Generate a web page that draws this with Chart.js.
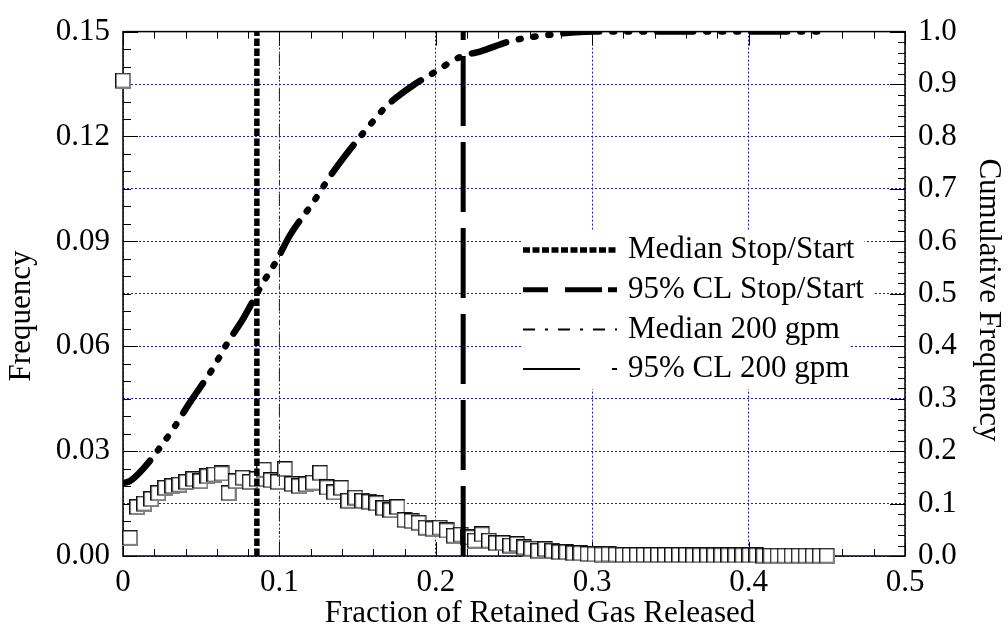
<!DOCTYPE html>
<html lang="en">
<head>
<meta charset="UTF-8" />
<title>Fraction of Retained Gas Released</title>
<script src="https://cdn.jsdelivr.net/npm/chart.js"></script>
<style>
  html, body { margin: 0; padding: 0; background: #fff; }
  #wrap { width: 1008px; height: 638px; position: relative; }
</style>
</head>
<body>
<div id="wrap"><canvas id="chart"></canvas></div>
<script>
// histogram of the released fraction (bins of 0.0045, plotted at the bin start)
const binWidth = 0.0045;
const frequency = [
  0.136, 0.0052, 0.0140, 0.0150, 0.0163, 0.0180, 0.0195, 0.0200, 0.0204, 0.0212,
  0.0220, 0.0214, 0.0228, 0.0233, 0.0236, 0.0180, 0.0214, 0.0224, 0.0212, 0.0220,
  0.0247, 0.0217, 0.0212, 0.0249, 0.0206, 0.0200, 0.0205, 0.0210, 0.0238, 0.0196,
  0.0182, 0.0195, 0.0158, 0.0167, 0.0158, 0.0155, 0.0151, 0.0137, 0.0131, 0.0140,
  0.0103, 0.0100, 0.0095, 0.0081, 0.0078, 0.0081, 0.0073, 0.0058, 0.0061, 0.0053,
  0.0044, 0.0062, 0.0044, 0.0037, 0.0037, 0.0030, 0.0034, 0.0025, 0.0021, 0.0015,
  0.0020, 0.0015, 0.0011, 0.0011, 0.0008, 0.0008, 0.0006, 0.0005, 0.0004, 0.0005,
  0.0004, 0.0003, 0.0003, 0.0003, 0.0003, 0.0003, 0.0003, 0.0003, 0.0003, 0.0003,
  0.0003, 0.0002, 0.0002, 0.0002, 0.0002, 0.0002, 0.0002, 0.0002, 0.0002, 0.0002,
  0.0002, 0.0001, 0.0001, 0.0001, 0.0001, 0.0001, 0.0001, 0.0001, 0.0001, 0.0001,
  0.0001
];

// cumulative frequency curve (right axis)
const cumX = [0, 0.0045, 0.0128, 0.0217, 0.032, 0.0428, 0.0575, 0.0665, 0.0767, 0.0889,
  0.0985, 0.1068, 0.1215, 0.1324, 0.1451, 0.163, 0.1688, 0.1867, 0.195, 0.2167,
  0.2283, 0.2494, 0.2794, 0.3005, 0.45];
const cumY = [0.139, 0.143, 0.166, 0.199, 0.242, 0.293, 0.358, 0.405, 0.452, 0.518,
  0.565, 0.612, 0.674, 0.724, 0.775, 0.84, 0.859, 0.90, 0.915, 0.953,
  0.962, 0.983, 0.996, 1.0, 1.0];

// vertical reference lines
const medianStopStart = 0.0856;
const cl95StopStart = 0.2175;
const median200 = 0.1;

const xTickLabels = ['0', '0.1', '0.2', '0.3', '0.4', '0.5'];
const leftTickLabels = ['0.00', '0.03', '0.06', '0.09', '0.12', '0.15'];
const rightTickLabels = ['0.0', '0.1', '0.2', '0.3', '0.4', '0.5', '0.6', '0.7', '0.8', '0.9', '1.0'];
const legendLabels = ['Median Stop/Start', '95% CL Stop/Start', 'Median 200 gpm', '95% CL 200 gpm'];

const FONT = '"Liberation Serif", "Times New Roman", serif';
const gridBlue = 'rgba(0, 0, 230, 0.9)';
Chart.defaults.font.family = FONT;
Chart.defaults.font.size = 31;
Chart.defaults.color = '#000';

const squares = frequency.map((f, i) => ({ x: +(i * binWidth).toFixed(4), y: f }));
const cumulative = cumX.map((x, i) => ({ x: x, y: cumY[i] }));
const vline = v => [{ x: v, y: 0 }, { x: v, y: 0.15 }];

// hollow square marker: dark top/left edge, grey bottom/right edge
function makeSquare() {
  const c = document.createElement('canvas');
  c.width = 16; c.height = 16;
  const g = c.getContext('2d');
  g.fillStyle = '#fff';
  g.fillRect(0, 0, 16, 16);
  g.fillStyle = '#808080';
  g.fillRect(0, 14, 16, 2);
  g.fillRect(14, 0, 2, 16);
  g.fillStyle = '#111';
  g.fillRect(0, 0, 15, 1.5);
  g.fillRect(0, 0, 1.5, 15);
  return c;
}

// frame + inward ticks, drawn over the grid but under the data
const frameTicks = {
  id: 'frameTicks',
  beforeDatasetsDraw(chart) {
    const { ctx, chartArea: a, scales } = chart;
    ctx.save();
    ctx.strokeStyle = '#000';
    ctx.lineWidth = 1;
    ctx.beginPath();
    for (let i = 0; i <= 25; i++) {
      const px = Math.round(scales.x.getPixelForValue(i * 0.02)) + 0.5;
      const len = i % 5 === 0 ? 14 : 7;
      ctx.moveTo(px, a.bottom); ctx.lineTo(px, a.bottom - len);
      ctx.moveTo(px, a.top); ctx.lineTo(px, a.top + len);
    }
    for (let i = 0; i <= 30; i++) {
      const py = Math.round(scales.y.getPixelForValue(i * 0.005)) + 0.5;
      const len = i % 6 === 0 ? 15 : 8;
      ctx.moveTo(a.left, py); ctx.lineTo(a.left + len, py);
    }
    for (let i = 0; i <= 50; i++) {
      const py = Math.round(scales.y1.getPixelForValue(i * 0.02)) + 0.5;
      const len = i % 5 === 0 ? 15 : 7;
      ctx.moveTo(a.right, py); ctx.lineTo(a.right - len, py);
    }
    ctx.stroke();
    ctx.lineWidth = 1.5;
    ctx.strokeRect(a.left, a.top, a.right - a.left, a.bottom - a.top);
    ctx.restore();
  }
};

// axis titles
const axisTitles = {
  id: 'axisTitles',
  afterDraw(chart) {
    const ctx = chart.ctx;
    ctx.save();
    ctx.font = '31px ' + FONT;
    ctx.fillStyle = '#000';
    ctx.textAlign = 'center';
    ctx.textBaseline = 'middle';
    ctx.fillText('Fraction of Retained Gas Released', 540, 614);
    ctx.translate(22, 316);
    ctx.rotate(-Math.PI / 2);
    ctx.fillText('Frequency', 0, 0);
    ctx.restore();
    ctx.save();
    ctx.font = '31px ' + FONT;
    ctx.fillStyle = '#000';
    ctx.textAlign = 'center';
    ctx.textBaseline = 'middle';
    ctx.translate(988, 300);
    ctx.rotate(Math.PI / 2);
    ctx.fillText('Cumulative Frequency', 0, 0);
    ctx.restore();
  }
};

// legend inside the plot, each row on a white box
const legendStyles = [
  { width: 5.5, dash: [7, 2.5] },
  { width: 5, dash: [25, 17, 37, 6] },
  { width: 2, dash: [12, 10, 3, 10] },
  { width: 2, dash: [57, 32] }
];
const legendBox = {
  id: 'legendBox',
  afterDraw(chart) {
    const ctx = chart.ctx;
    ctx.save();
    ctx.font = '31px ' + FONT;
    ctx.textBaseline = 'middle';
    legendLabels.forEach((label, i) => {
      const y = 250 + i * 39.7;
      const tw = ctx.measureText(label).width;
      ctx.fillStyle = '#fff';
      ctx.fillRect(521, y - 20, 628 + tw + 10 - 521, 40);
      ctx.strokeStyle = '#000';
      ctx.lineWidth = legendStyles[i].width;
      ctx.setLineDash(legendStyles[i].dash);
      ctx.beginPath();
      ctx.moveTo(523, y);
      ctx.lineTo(617, y);
      ctx.stroke();
      ctx.setLineDash([]);
      ctx.fillStyle = '#000';
      ctx.fillText(label, 628, y);
    });
    ctx.restore();
  }
};

new Chart(document.getElementById('chart'), {
  type: 'scatter',
  data: {
    datasets: [
      {
        label: 'Median Stop/Start',
        data: vline(medianStopStart),
        yAxisID: 'y',
        showLine: true,
        borderColor: '#000',
        borderWidth: 5.5,
        borderDash: [7.5, 2.5],
        pointRadius: 0
      },
      {
        label: '95% CL Stop/Start',
        data: vline(cl95StopStart),
        yAxisID: 'y',
        showLine: true,
        borderColor: '#000',
        borderWidth: 5,
        borderDash: [70, 16],
        pointRadius: 0
      },
      {
        label: 'Median 200 gpm',
        data: vline(median200),
        yAxisID: 'y',
        showLine: true,
        borderColor: '#222',
        borderWidth: 1,
        borderDash: [12, 10, 3, 10],
        pointRadius: 0
      },
      {
        label: 'Cumulative',
        data: cumulative,
        yAxisID: 'y1',
        showLine: true,
        borderColor: '#000',
        borderWidth: 6.5,
        borderCapStyle: 'round',
        borderDash: [36, 13, 2, 13, 2, 13, 2, 13],
        cubicInterpolationMode: 'monotone',
        pointRadius: 0
      },
      {
        label: 'Frequency',
        data: squares,
        yAxisID: 'y',
        showLine: false,
        pointStyle: makeSquare(),
        pointRadius: 8,
        clip: false
      }
    ]
  },
  options: {
    responsive: true,
    maintainAspectRatio: false,
    animation: false,
    events: [],
    layout: { padding: { top: 23, left: 0, right: 0, bottom: 0 } },
    plugins: { legend: { display: false }, tooltip: { enabled: false } },
    scales: {
      x: {
        type: 'linear',
        min: 0,
        max: 0.5,
        ticks: {
          stepSize: 0.1,
          padding: 8,
          maxRotation: 0,
          callback: v => xTickLabels[Math.round(v / 0.1)]
        },
        grid: { color: gridBlue, lineWidth: 1, drawTicks: false },
        border: { display: false, dash: [2, 2] },
        afterFit: s => { s.height = 82; }
      },
      y: {
        position: 'left',
        min: 0,
        max: 0.15,
        ticks: {
          stepSize: 0.03,
          padding: 13,
          callback: v => leftTickLabels[Math.round(v / 0.03)]
        },
        grid: { display: false, drawTicks: false },
        border: { display: false },
        afterFit: s => { s.width = 123; }
      },
      y1: {
        position: 'right',
        min: 0,
        max: 1,
        ticks: {
          stepSize: 0.1,
          padding: 13,
          callback: v => rightTickLabels[Math.round(v / 0.1)]
        },
        grid: { color: gridBlue, lineWidth: 1, drawTicks: false },
        border: { display: false, dash: [2, 2] },
        afterFit: s => { s.width = 103; }
      }
    }
  },
  plugins: [frameTicks, axisTitles, legendBox]
});
</script>
</body>
</html>
